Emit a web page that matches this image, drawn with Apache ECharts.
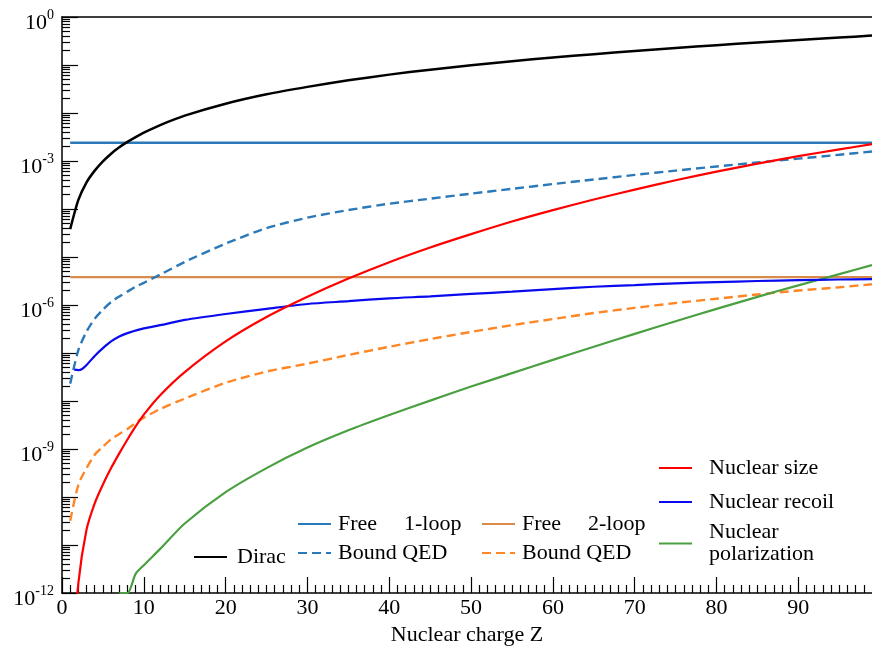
<!DOCTYPE html>
<html>
<head>
<meta charset="utf-8">
<script src="https://cdn.jsdelivr.net/npm/echarts@6/dist/echarts.min.js"></script>
<style>
  html, body { margin: 0; padding: 0; background: #fff; }
  #chart { width: 872px; height: 646px; }
</style>
</head>
<body>
<div id="chart"></div>
<script>
// Energy contributions vs nuclear charge Z, each series as [Z, value] pairs.
const dirac = [[1,3.8e-5],[2,1.55e-4],[3,3.6e-4],[4,6.3e-4],[5,9.8e-4],[6,1.42e-3],[7,1.93e-3],[8,2.5e-3],[9,3.15e-3],[10,3.9e-3],[12,5.6e-3],[15,8.8e-3],[20,1.56e-2],[25,2.45e-2],[30,3.5e-2],[35,4.8e-2],[40,6.3e-2],[45,8.0e-2],[50,9.9e-2],[55,0.12],[60,0.143],[65,0.168],[70,0.196],[75,0.226],[80,0.259],[85,0.294],[90,0.332],[95,0.373],[99,0.41]];
const free1Loop = [[1,2.4e-3],[99,2.4e-3]];
const bound1Loop = [[1,2.3e-8],[2,1.15e-7],[3,2.8e-7],[4,5.2e-7],[5,8.0e-7],[6,1.15e-6],[7,1.5e-6],[8,1.9e-6],[9,2.4e-6],[10,2.9e-6],[12,4.3e-6],[15,7.9e-6],[20,1.9e-5],[25,4.0e-5],[30,6.6e-5],[35,9.5e-5],[40,1.29e-4],[45,1.64e-4],[50,2.09e-4],[55,2.63e-4],[60,3.31e-4],[65,4.12e-4],[70,5.13e-4],[75,6.31e-4],[80,7.67e-4],[85,9.33e-4],[90,1.12e-3],[95,1.35e-3],[99,1.58e-3]];
const free2Loop = [[1,3.8e-6],[99,3.8e-6]];
const bound2Loop = [[1,3.2e-11],[2,1.8e-10],[3,4.0e-10],[4,7.6e-10],[5,1.12e-9],[6,1.6e-9],[7,2.05e-9],[8,2.6e-9],[9,3.5e-9],[10,4.5e-9],[12,6.8e-9],[15,1.12e-8],[20,2.4e-8],[25,4.1e-8],[30,6.0e-8],[35,9.1e-8],[40,1.35e-7],[45,1.95e-7],[50,2.75e-7],[55,3.8e-7],[60,5.1e-7],[65,6.8e-7],[70,8.7e-7],[75,1.1e-6],[80,1.35e-6],[85,1.66e-6],[90,2.0e-6],[95,2.34e-6],[99,2.7e-6]];
const nuclearSize = [[1,1e-14],[2,1.6e-12],[3,2.1e-11],[4,7.4e-11],[5,1.82e-10],[6,4.0e-10],[7,8.1e-10],[8,1.58e-9],[9,2.95e-9],[10,5.2e-9],[12,1.32e-8],[15,4.0e-8],[20,1.74e-7],[25,5.6e-7],[30,1.48e-6],[35,3.55e-6],[40,7.8e-6],[45,1.58e-5],[50,3.0e-5],[55,5.5e-5],[60,9.5e-5],[65,1.58e-4],[70,2.54e-4],[75,3.98e-4],[80,6.0e-4],[85,8.8e-4],[90,1.26e-3],[95,1.74e-3],[99,2.24e-3]];
const nuclearRecoil = [[1.5,4.5e-8],[2,4.4e-8],[2.5,4.7e-8],[3,5.6e-8],[4,8.7e-8],[5,1.26e-7],[6,1.74e-7],[7,2.2e-7],[8,2.6e-7],[10,3.25e-7],[12,3.8e-7],[15,4.9e-7],[20,6.5e-7],[25,8.3e-7],[30,1.05e-6],[35,1.2e-6],[40,1.38e-6],[45,1.51e-6],[50,1.7e-6],[55,1.9e-6],[60,2.14e-6],[65,2.4e-6],[70,2.6e-6],[75,2.82e-6],[80,3.0e-6],[85,3.16e-6],[90,3.3e-6],[95,3.4e-6],[99,3.47e-6]];
const nuclearPolarization = [[7,1e-12],[8,1e-12],[9,2.5e-12],[10,3.8e-12],[12,8.3e-12],[15,2.8e-11],[20,1.26e-10],[25,4.0e-10],[30,1.07e-9],[35,2.45e-9],[40,5.1e-9],[45,1.02e-8],[50,2.0e-8],[55,3.8e-8],[60,7.2e-8],[65,1.35e-7],[70,2.5e-7],[75,4.6e-7],[80,8.3e-7],[85,1.48e-6],[90,2.57e-6],[95,4.4e-6],[99,6.8e-6]];

// Axis ticks and labels
const xMajorTicks = [0,10,20,30,40,50,60,70,80,90];
const xMinorTicks = [1,2,3,4,5,6,7,8,9,11,12,13,14,15,16,17,18,19,21,22,23,24,25,26,27,28,29,31,32,33,34,35,36,37,38,39,41,42,43,44,45,46,47,48,49,51,52,53,54,55,56,57,58,59,61,62,63,64,65,66,67,68,69,71,72,73,74,75,76,77,78,79,81,82,83,84,85,86,87,88,89,91,92,93,94,95,96,97,98];
const yDecadeExponents = [0,-1,-2,-3,-4,-5,-6,-7,-8,-9,-10,-11,-12];
const yLabelExponents = [0,-3,-6,-9,-12];

const SERIF = 'Liberation Serif';
const pow10 = e => Number('1e' + e);
const yDecadeTicks = yDecadeExponents.map(pow10);
const yLabelValues = yLabelExponents.map(pow10);
const yMinorTicks = [];
yDecadeExponents.slice(1).forEach(e => {
  for (let k = 2; k <= 9; k++) yMinorTicks.push(Number(k + 'e' + e));
});

const tickLine = { color: '#000', width: 1.2 };

const legendBase = {
  orient: 'vertical', padding: 0, itemWidth: 33, itemHeight: 14, itemGap: 0,
  selectedMode: false,
  itemStyle: { opacity: 0 }
};
const legendText = (lh, padLeft) => ({
  fontFamily: SERIF, fontSize: 22, color: '#000', lineHeight: lh, padding: [0, 0, 0, padLeft],
  rich: {
    w: { fontFamily: SERIF, fontSize: 22, color: '#000', lineHeight: lh, width: 66 },
    t: { fontFamily: SERIF, fontSize: 22, color: '#000', lineHeight: lh }
  }
});
const legendLabel = name => {
  if (name === 'Free 1-loop' || name === 'Free 2-loop') {
    const parts = name.split(' ');
    return '{w|' + parts[0] + '}{t|' + parts[1] + '}';
  }
  if (name.startsWith('Bound QED')) return 'Bound QED';
  if (name === 'Nuclear polarization') return 'Nuclear\npolarization';
  return name;
};

const lineSeries = (name, data, color, dashed, width) => ({
  name, type: 'line', data, showSymbol: false, symbol: 'none',
  smooth: 0.25, clip: true,
  lineStyle: { color, width: width || 2.2, type: dashed ? [9, 5] : 'solid' },
  itemStyle: { color },
  emphasis: { disabled: true }
});

const option = {
  animation: false,
  backgroundColor: '#fff',
  grid: { left: 62, right: 0, top: 17, bottom: 53, outerBoundsMode: 'none' },
  xAxis: [
    {
      type: 'value', min: 0, max: 99, interval: 10, position: 'bottom',
      name: 'Nuclear charge Z', nameLocation: 'middle', nameGap: 26,
      nameTextStyle: { fontFamily: SERIF, fontSize: 22, color: '#000' },
      axisLine: { show: true, lineStyle: { color: '#000', width: 1.5 } },
      axisTick: { show: true, inside: true, length: 16, lineStyle: tickLine, customValues: xMajorTicks },
      axisLabel: { customValues: xMajorTicks, fontFamily: SERIF, fontSize: 22, color: '#000', margin: 4 },
      splitLine: { show: false }
    },
    {
      type: 'value', min: 0, max: 99, position: 'bottom',
      axisLine: { show: false },
      axisTick: { show: true, inside: true, length: 8, lineStyle: tickLine, customValues: xMinorTicks },
      axisLabel: { show: false },
      splitLine: { show: false }
    },
    {
      type: 'value', min: 0, max: 99, position: 'top',
      axisLine: { show: true, lineStyle: { color: '#000', width: 1.5 } },
      axisTick: { show: false }, axisLabel: { show: false }, splitLine: { show: false }
    }
  ],
  yAxis: [
    {
      type: 'log', logBase: 10, min: 1e-12, max: 1, position: 'left',
      axisLine: { show: true, lineStyle: { color: '#000', width: 1.5 } },
      axisTick: { show: true, inside: true, length: 16, lineStyle: tickLine, customValues: yDecadeTicks },
      axisLabel: {
        customValues: yLabelValues, margin: 8, padding: [12, 0, 0, 0],
        formatter: v => '{b|10}{e|' + Math.round(Math.log10(v)) + '}',
        rich: {
          b: { fontFamily: SERIF, fontSize: 22, color: '#000', lineHeight: 22, verticalAlign: 'bottom' },
          e: { fontFamily: SERIF, fontSize: 14, color: '#000', lineHeight: 14, verticalAlign: 'bottom', padding: [0, 0, 12, 0] }
        }
      },
      splitLine: { show: false }
    },
    {
      type: 'log', logBase: 10, min: 1e-12, max: 1, position: 'left',
      axisLine: { show: false },
      axisTick: { show: true, inside: true, length: 8, lineStyle: tickLine, customValues: yMinorTicks },
      axisLabel: { show: false },
      splitLine: { show: false }
    }
  ],
  legend: [
    Object.assign({}, legendBase, {
      data: ['Dirac'], left: 193, top: 542.5, formatter: legendLabel, textStyle: legendText(29, 5)
    }),
    Object.assign({}, legendBase, {
      data: ['Free 1-loop', 'Bound QED 1-loop'], left: 297, top: 509.5, formatter: legendLabel, textStyle: legendText(29, 2)
    }),
    Object.assign({}, legendBase, {
      data: ['Free 2-loop', 'Bound QED 2-loop'], left: 481, top: 509.5, formatter: legendLabel, textStyle: legendText(29, 2)
    }),
    Object.assign({}, legendBase, {
      data: ['Nuclear size', 'Nuclear recoil'], left: 658, top: 457, itemGap: 12, formatter: legendLabel, textStyle: legendText(22, 12)
    }),
    Object.assign({}, legendBase, {
      data: ['Nuclear polarization'], left: 658, top: 521.5, formatter: legendLabel, textStyle: legendText(22, 12)
    })
  ],
  series: [
    lineSeries('Free 1-loop', free1Loop, '#2b79b8', false, 2.4),
    lineSeries('Free 2-loop', free2Loop, '#d98b4c', false, 2.4),
    lineSeries('Bound QED 1-loop', bound1Loop, '#2b79b8', true, 2.4),
    lineSeries('Bound QED 2-loop', bound2Loop, '#ff8624', true, 2.4),
    lineSeries('Nuclear polarization', nuclearPolarization, '#4aa040', false, 2.2),
    lineSeries('Nuclear recoil', nuclearRecoil, '#0a0aef', false, 2.2),
    lineSeries('Nuclear size', nuclearSize, '#ff0000', false, 2.2),
    lineSeries('Dirac', dirac, '#000000', false, 2.5)
  ]
};

const chart = echarts.init(document.getElementById('chart'), null, { renderer: 'canvas' });
chart.setOption(option);
</script>
</body>
</html>
